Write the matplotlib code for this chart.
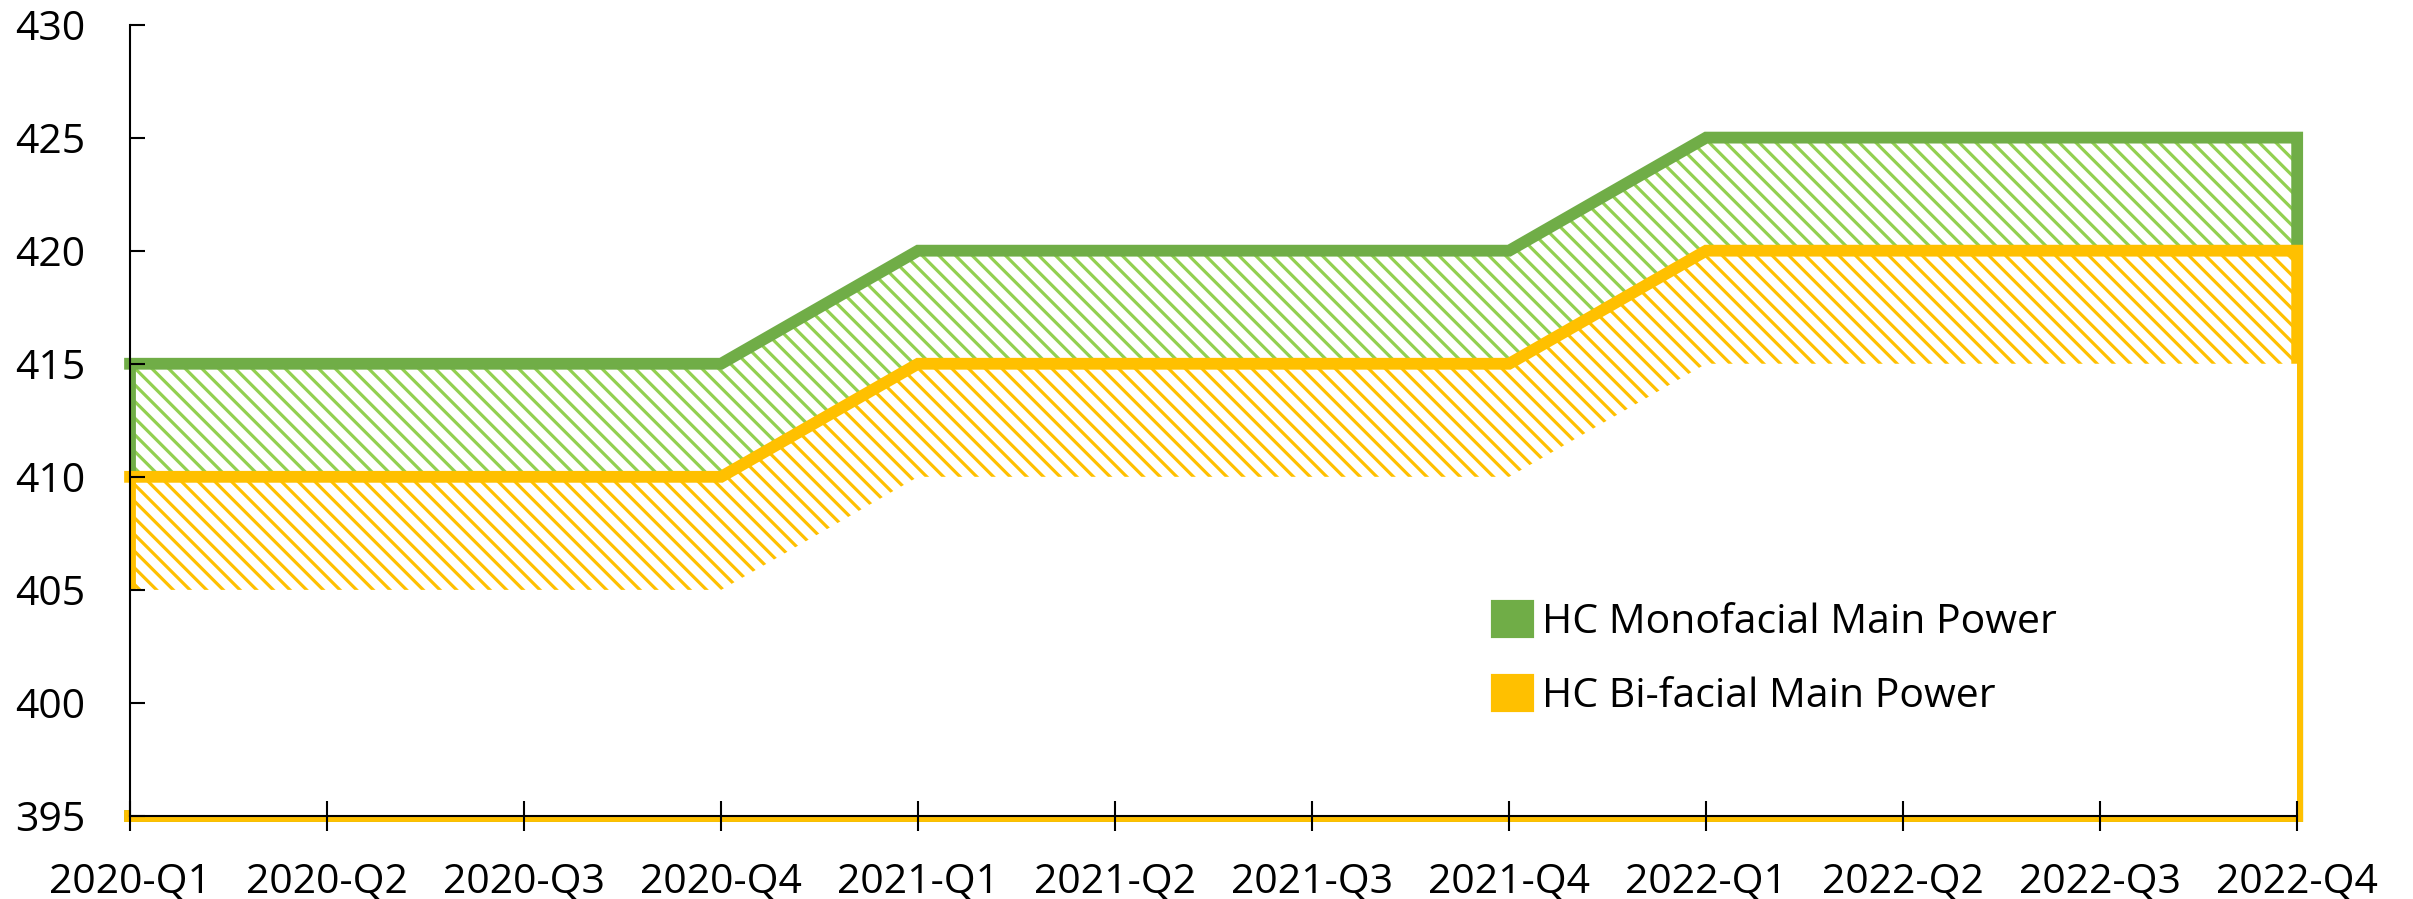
import matplotlib
matplotlib.use('Agg')
import matplotlib.pyplot as plt
from matplotlib.patches import Patch

plt.rcParams['font.family'] = 'Open Sans'
plt.rcParams['hatch.linewidth'] = 2.3

# data
quarters = ['2020-Q1', '2020-Q2', '2020-Q3', '2020-Q4',
            '2021-Q1', '2021-Q2', '2021-Q3', '2021-Q4',
            '2022-Q1', '2022-Q2', '2022-Q3', '2022-Q4']
mono = [415, 415, 415, 415, 420, 420, 420, 420, 425, 425, 425, 425]
bifacial = [410, 410, 410, 410, 415, 415, 415, 415, 420, 420, 420, 420]
floor = [405, 405, 405, 405, 410, 410, 410, 410, 415, 415, 415, 415]
labels = ['HC Monofacial Main Power', 'HC Bi-facial Main Power']

green = '#70AD47'
green_hatch = '#92D050'
yellow = '#FFC000'
base = 395
fs = 29.5

fig = plt.figure(figsize=(24.13, 8.99), dpi=100)
ax = fig.add_axes([0.0539, 0.0923, 0.8981, 0.8804])

x = list(range(len(quarters)))
last = x[-1]


def area(values, line_c, hatch_c, z):
    ax.fill_between(x, base, values, facecolor='white', edgecolor=hatch_c,
                    hatch='\\\\', linewidth=0, zorder=z)
    # top + right edge + bottom, not clipped (like the excel outline)
    ox = x + [last, 0]
    oy = values + [base, base]
    ax.plot(ox, oy, color=line_c, lw=8.5, solid_joinstyle='miter',
            clip_on=False, zorder=z + 0.05)
    # left edge, clipped at the axis
    ax.plot([0, 0], [base, values[0]], color=line_c, lw=8.5, zorder=z + 0.05)


area(mono, green, green_hatch, 1.0)
area(bifacial, yellow, yellow, 1.2)
# white mask below the bands
ax.fill_between(x, base, floor, facecolor='white', linewidth=0, zorder=1.4)

ax.set_xlim(0, last)
ax.set_ylim(395, 430)
ax.set_xticks(x)
ax.set_xticklabels(quarters)
ax.set_yticks(range(395, 431, 5))

for s in ['top', 'right']:
    ax.spines[s].set_visible(False)
for s in ['left', 'bottom']:
    ax.spines[s].set_linewidth(1.5)
    ax.spines[s].set_color('black')

ax.tick_params(axis='x', direction='inout', length=21.6, width=1.5,
               labelsize=fs, pad=22)
ax.tick_params(axis='y', direction='in', length=11, width=1.5,
               labelsize=fs, pad=32)

handles = [Patch(facecolor=green, edgecolor=green, lw=3, joinstyle='round'),
           Patch(facecolor=yellow, edgecolor=yellow, lw=3, joinstyle='round')]
ax.legend(handles, labels, loc='upper left',
          bbox_to_anchor=(1493 / 2413, 1 - 602 / 899),
          bbox_transform=fig.transFigure, frameon=False, fontsize=fs,
          handlelength=0.95, handleheight=0.9, handletextpad=0.25,
          labelspacing=0.8, borderpad=0, borderaxespad=0)

fig.savefig('out.png', dpi=100)
